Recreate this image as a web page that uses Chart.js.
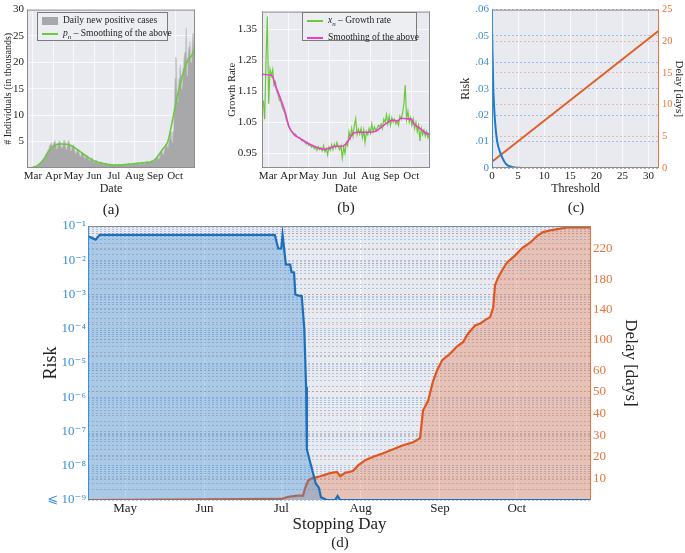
<!DOCTYPE html>
<html>
<head>
<meta charset="utf-8">
<script src="https://cdn.jsdelivr.net/npm/chart.js@4.4.0/dist/chart.umd.min.js"></script>
<style>
body { margin: 0; background: #fff; width: 685px; height: 553px; position: relative; overflow: hidden;
       font-family: 'Liberation Serif', 'DejaVu Serif', serif; color: #222; }
canvas { position: absolute; }
.cap { position: absolute; font-size: 15px; transform: translateX(-50%); }
.legend { position: absolute; background: #eceef2; border: 1px solid #7a7a7a; font-size: 9.5px; line-height: 13px; padding: 1px 4px; box-sizing: border-box; }
.legend div { white-space: nowrap; }
.sw { display: inline-block; width: 16px; vertical-align: middle; margin-right: 5px; }
</style>
</head>
<body>
<canvas id="chartA" width="200" height="198" style="left:0;top:0"></canvas>
<canvas id="chartB" width="212" height="198" style="left:222px;top:0"></canvas>
<canvas id="chartC" width="230" height="198" style="left:455px;top:0"></canvas>
<canvas id="chartD" width="609" height="329" style="left:36px;top:210px"></canvas>

<div class="legend" style="left:37px;top:12px;width:131px;height:29px">
  <div><span class="sw" style="height:8px;background:#a8a8aa"></span>Daily new positive cases</div>
  <div><span class="sw" style="height:2px;background:#6cc83c"></span><i>p<sub style="font-size:7px">n</sub></i> – Smoothing of the above</div>
</div>
<div class="legend" style="left:302px;top:12px;width:115px;height:29px">
  <div><span class="sw" style="height:2px;background:#6cc83c"></span><i>x<sub style="font-size:7px">n</sub></i> – Growth rate</div>
  <div><span class="sw" style="height:2px;background:#f03ccc"></span>Smoothing of the above</div>
</div>

<div class="cap" style="left:111px;top:201px">(a)</div>
<div class="cap" style="left:346px;top:199px">(b)</div>
<div class="cap" style="left:576px;top:199px">(c)</div>
<div class="cap" style="left:340px;top:534px">(d)</div>

<script>
// days are counted from 1 March 2020
const MONTH_NAMES = ['Mar', 'Apr', 'May', 'Jun', 'Jul', 'Aug', 'Sep', 'Oct'];
const MONTH_STARTS = [0, 31, 61, 92, 122, 153, 184, 214];

// (a) daily new positive cases, thousands, one value per day from CASE_START
const CASE_START = -6;
const cases = [
  0, 0, 0, 0, 0.05, 0.1, 0.1,
  0.1, 0.1, 0.2, 0.2, 0.3, 0.3, 0.4,
  0.5, 0.6, 0.7, 0.9, 1.0, 1.2, 1.3,
  1.5, 1.7, 1.9, 2.2, 2.5, 2.8, 3.0,
  3.2, 3.5, 3.8, 4.2, 4.5, 4.6, 4.9,
  3.9, 4.2, 4.6, 5.0, 5.2, 4.8, 4.4,
  3.6, 4.1, 4.7, 5.2, 5.1, 4.9, 4.5,
  3.7, 4.0, 4.5, 5.0, 5.3, 4.9, 4.6,
  3.5, 3.9, 4.4, 5.1, 5.2, 4.7, 4.2,
  3.2, 3.6, 4.0, 4.3, 4.4, 3.8, 3.5,
  2.7, 3.0, 3.4, 3.6, 3.5, 3.1, 2.8,
  2.2, 2.5, 2.8, 3.0, 2.9, 2.6, 2.3,
  1.8, 2.0, 2.3, 2.4, 2.3, 2.0, 1.8,
  1.4, 1.6, 1.8, 1.9, 1.8, 1.5, 1.3,
  1.1, 1.2, 1.4, 1.5, 1.4, 1.2, 1.1,
  0.9, 1.0, 1.1, 1.2, 1.1, 0.9, 0.8,
  0.7, 0.8, 0.9, 1.0, 0.9, 0.8, 0.7,
  0.6, 0.6, 0.7, 0.8, 0.7, 0.6, 0.5,
  0.5, 0.5, 0.6, 0.7, 0.6, 0.5, 0.5,
  0.5, 0.6, 0.7, 0.7, 0.6, 0.5, 0.5,
  0.5, 0.6, 0.7, 0.8, 0.7, 0.6, 0.5,
  0.6, 0.7, 0.8, 0.9, 0.8, 0.7, 0.6,
  0.6, 0.7, 0.8, 0.9, 0.9, 0.8, 0.7,
  0.7, 0.8, 0.9, 1.0, 1.0, 0.8, 0.7,
  0.8, 0.9, 1.0, 1.1, 1.1, 0.9, 0.8,
  0.9, 1.0, 1.2, 1.3, 1.3, 1.1, 1.0,
  1.0, 1.2, 1.4, 1.5, 1.5, 1.3, 1.2,
  1.3, 1.6, 1.8, 2.0, 2.1, 1.8, 1.6,
  2.0, 2.4, 2.8, 3.1, 3.3, 2.9, 2.6,
  3.0, 3.6, 4.0, 4.5, 4.7, 4.2, 3.8,
  4.5, 5.5, 6.5, 7.0, 6.8, 5.5, 4.8,
  7.0, 9.0, 12.0, 17.0, 21.0, 20.5, 14.0,
  12.5, 15.5, 17.0, 18.5, 19.5, 17.5, 15.0,
  16.0, 19.0, 20.0, 21.5, 22.0, 24.0, 26.5,
  17.5, 20.5, 22.0, 23.0, 24.0, 22.5, 20.0,
  21.0, 24.0, 25.5, 24.5, 22.0
];
const smoothDaysA = [-5, 6, 16, 23.5, 31, 38.5, 51, 58, 71, 81, 93, 106, 121, 136, 151, 166, 179, 186, 196, 203, 211, 218, 226, 233, 239, 243];
const smoothCasesA = [0, 0.4, 1.6, 3.1, 4.2, 4.55, 4.5, 4.2, 3.1, 2.2, 1.3, 0.86, 0.55, 0.6, 0.8, 1.0, 1.2, 1.9, 3.7, 5.0, 9.6, 13.9, 17.9, 20.4, 21.3, 22.5];
const A_Y_TICKS = [5, 10, 15, 20, 25, 30];

// (b) growth rate, every second day from GROWTH_START
const GROWTH_START = -7;
const GROWTH_STEP = 2;
const growth = [
  1.12, 1.06, 1.25, 1.39, 1.11, 1.22, 1.20, 1.22, 1.17, 1.18,
  1.15, 1.14, 1.12, 1.12, 1.10, 1.09, 1.08, 1.06, 1.05, 1.035,
  1.03, 1.02, 1.018, 1.01, 1.012, 1.005, 1.0, 1.002, 0.995, 0.99,
  0.992, 0.985, 0.98, 0.985, 0.975, 0.978, 0.97, 0.975, 0.965, 0.97,
  0.96, 0.972, 0.962, 0.968, 0.958, 0.975, 0.955, 0.965, 0.945, 0.97,
  0.96, 0.978, 0.962, 0.98, 0.968, 0.985, 0.97, 0.962, 0.975, 0.935,
  0.97, 0.95, 0.985, 0.975, 1.02, 1.0, 1.03, 1.005, 1.04, 1.062,
  1.01, 1.028, 1.012, 1.03, 1.0, 1.025, 0.985, 1.02, 1.01, 1.03,
  1.015, 1.045, 1.02, 1.035, 1.025, 1.03, 1.04, 1.035, 1.045, 1.03,
  1.06, 1.05, 1.075, 1.045, 1.07, 1.04, 1.065, 1.05, 1.06, 1.045,
  1.055, 1.04, 1.07, 1.06, 1.08, 1.11, 1.17, 1.06, 1.085, 1.05,
  1.065, 1.04, 1.06, 1.03, 1.05, 1.02, 1.04, 0.99, 1.03, 1.01,
  1.025, 1.005, 1.02, 1.0, 1.015, 1.01
];
const smoothDaysB = [-7.5, 6, 11, 18.5, 26, 31, 38.5, 48.5, 61, 73.5, 83.5, 93.5, 101, 111, 118.5, 126, 133.5, 148.5, 161, 168.5, 178.5, 186, 193.5, 198.5, 208.5, 213.5, 218.5, 228.5, 236, 242.5];
const smoothGrowthB = [1.204, 1.2, 1.168, 1.127, 1.08, 1.038, 1.012, 0.997, 0.981, 0.969, 0.963, 0.968, 0.973, 0.973, 0.986, 1.012, 1.018, 1.018, 1.021, 1.033, 1.049, 1.057, 1.054, 1.063, 1.061, 1.061, 1.044, 1.028, 1.015, 1.012];
const B_Y_TICKS = [0.95, 1.05, 1.15, 1.25, 1.35];

// (c) risk and delay against threshold
const threshold = [0, 0.25, 0.5, 0.75, 1, 1.5, 2, 2.5, 3, 4, 5, 6, 8, 32];
const riskC = [0.053, 0.030, 0.020, 0.014, 0.010, 0.0062, 0.0038, 0.0020, 0.0010, 0.0003, 0.0001, 0.00003, 0, 0];
const delayThreshold = [0, 32];
const delayC = [1.0, 21.7];
const C_X_TICKS = [0, 5, 10, 15, 20, 25, 30];
const C_RISK_TICKS = [0, 0.01, 0.02, 0.03, 0.04, 0.05, 0.06];
const C_DELAY_TICKS = [0, 5, 10, 15, 20, 25];

// (d) risk and delay against stopping day
const riskDays = [46.5, 48, 49.5, 51, 119.5, 120.8, 122, 122.5, 123.8, 125.5, 126, 127, 127.5, 129.5, 130, 131, 131.7, 132, 133.5, 135.5, 136.7, 137.5, 139.8, 143, 144, 145, 243];
const riskD = [0.05, 0.045, 0.04, 0.055, 0.055, 0.022, 0.022, 0.057, 0.0076, 0.0075, 0.0045, 0.0044, 0.001, 0.0009, 0.0009, 1e-4, 2e-6, 3e-8, 1.1e-8, 3e-9, 2.3e-9, 1.2e-9, 1e-9, 1e-9, 1.3e-9, 1e-9, 1e-9];
const delayDays = [46.5, 122.3, 124.3, 128.2, 130.5, 131.3, 132.5, 134, 137.2, 141.1, 143.8, 145, 147, 150, 152, 154.8, 157.9, 161.8, 165.7, 169.6, 173.5, 176.2, 177.4, 179.4, 181.3, 182.9, 184.8, 188, 190.7, 193, 195, 197.7, 199.7, 201.6, 203.6, 204.8, 205.5, 206.7, 208.7, 210.2, 213.3, 216.1, 219.2, 222, 224.3, 228.2, 233.7, 243];
const delayD = [0, 0.5, 1.4, 2, 2, 5.5, 9, 10, 11, 12.4, 13, 11, 12.6, 13.4, 16, 18.4, 20, 21.6, 23.5, 25.3, 26.7, 28.6, 41.5, 46, 55, 60, 73, 82, 91.5, 97, 108.5, 119, 121.5, 126, 130, 143, 172, 182, 194, 202, 211, 221, 228, 237, 242, 245, 248, 248];
const D_DELAY_TICKS = [10, 20, 30, 40, 50, 60, 80, 100, 120, 140, 160, 180, 200, 220, 240];
const D_DELAY_LABELLED = [10, 20, 30, 40, 50, 60, 100, 140, 180, 220];

const BLUE_AXIS = '#3a8fd8';
const ORANGE_AXIS = '#e8743b';
const SERIF = "'Liberation Serif', 'DejaVu Serif', 'DejaVu Sans', serif";

Chart.defaults.font.family = SERIF;
Chart.defaults.color = '#222';
Chart.defaults.animation = false;

// delay axis of (d): 0-60 days stretched, beyond 60 compressed
const DELAY_K = 0.351;
function warp(d) { return d <= 60 ? d : 60 + (d - 60) * DELAY_K; }
function unwarp(t) { return t <= 60 ? t : 60 + (t - 60) / DELAY_K; }

function fixTicks(vals) {
  return function(scale) { scale.ticks = vals.map(v => ({ value: v })); };
}
function monthTicks(lo, hi) {
  return fixTicks(MONTH_STARTS.filter(v => v >= lo && v <= hi));
}
function monthLabel(v) {
  const i = MONTH_STARTS.indexOf(v);
  return i < 0 ? '' : MONTH_NAMES[i];
}
function fixWidth(w) { return s => { s.width = w; }; }
function fixHeight(h) { return s => { s.height = h; }; }
function pts(xs, ys, f) { return xs.map((x, i) => ({ x: x, y: f ? f(ys[i]) : ys[i] })); }

const SUP = { '0': '⁰', '1': '¹', '2': '²', '3': '³', '4': '⁴', '5': '⁵', '6': '⁶', '7': '⁷', '8': '⁸', '9': '⁹' };
function powerLabel(v) {
  const e = Math.log10(v);
  const n = Math.round(e);
  if (Math.abs(e - n) > 1e-6) return '';
  const s = '10' + (n < 0 ? '⁻' : '') + String(Math.abs(n)).split('').map(c => SUP[c]).join('');
  return n === -9 ? '⩽ ' + s : s;
}

// plot background and frame
const plotFrame = {
  id: 'plotFrame',
  beforeDraw(chart, args, opts) {
    const { ctx, chartArea: a } = chart;
    ctx.save();
    ctx.fillStyle = opts.bg || '#e9eaf0';
    ctx.fillRect(a.left, a.top, a.width, a.height);
    ctx.restore();
  },
  afterDraw(chart, args, opts) {
    const { ctx, chartArea: a } = chart;
    const c = opts.colors || {};
    const def = '#8c8c8c';
    const side = (col, x1, y1, x2, y2) => {
      if (col === 'none') return;
      ctx.strokeStyle = col || def;
      ctx.beginPath(); ctx.moveTo(x1, y1); ctx.lineTo(x2, y2); ctx.stroke();
    };
    ctx.save();
    ctx.lineWidth = opts.width || 1;
    side(c.top, a.left, a.top + 0.5, a.right, a.top + 0.5);
    side(c.bottom, a.left, a.bottom - 0.5, a.right, a.bottom - 0.5);
    side(c.left, a.left + 0.5, a.top, a.left + 0.5, a.bottom);
    side(c.right, a.right - 0.5, a.top, a.right - 0.5, a.bottom);
    ctx.restore();
  }
};
Chart.register(plotFrame);

const whiteGrid = { color: 'rgba(255,255,255,0.9)', lineWidth: 0.8, drawTicks: false };
const tickFont = { size: 11 };

// (a)
new Chart(document.getElementById('chartA'), {
  type: 'line',
  data: {
    datasets: [{
      data: smoothDaysA.map((x, i) => ({ x: x, y: smoothCasesA[i] })),
      borderColor: '#6cc83c', borderWidth: 1.6, pointRadius: 0, cubicInterpolationMode: 'monotone'
    }, {
      data: cases.map((v, i) => ({ x: CASE_START + i, y: v })),
      borderColor: '#c4c4c6', borderWidth: 0.7, backgroundColor: '#a8a8aa', fill: 'origin', pointRadius: 0
    }]
  },
  options: {
    responsive: false, devicePixelRatio: 1,
    layout: { padding: { top: 6, right: 5 } },
    plugins: { legend: { display: false }, tooltip: { enabled: false } },
    scales: {
      x: {
        type: 'linear', min: -9, max: 244, afterBuildTicks: monthTicks(-9, 244), afterFit: fixHeight(30),
        grid: whiteGrid, border: { display: false },
        ticks: { callback: monthLabel, font: tickFont, padding: 2, maxRotation: 0, autoSkip: false },
        title: { display: true, text: 'Date', font: { size: 12 }, padding: { top: 0, bottom: 2 } }
      },
      y: {
        min: 0, max: 30, afterBuildTicks: fixTicks(A_Y_TICKS), afterFit: fixWidth(27),
        grid: whiteGrid, border: { display: false },
        ticks: { font: tickFont, padding: 3 },
        title: { display: true, text: '# Individuals (in thousands)', font: { size: 10 }, padding: { top: 2, bottom: 0 } }
      }
    }
  }
});

// (b)
new Chart(document.getElementById('chartB'), {
  type: 'line',
  data: {
    datasets: [{
      data: pts(smoothDaysB, smoothGrowthB),
      borderColor: '#f03ccc', borderWidth: 1.6, pointRadius: 0, cubicInterpolationMode: 'monotone'
    }, {
      data: growth.map((v, i) => ({ x: GROWTH_START + i * GROWTH_STEP, y: v })),
      borderColor: '#6cc83c', borderWidth: 1.2, pointRadius: 0
    }]
  },
  options: {
    responsive: false, devicePixelRatio: 1,
    layout: { padding: { top: 5, right: 4 } },
    plugins: { legend: { display: false }, tooltip: { enabled: false } },
    scales: {
      x: {
        type: 'linear', min: -9, max: 242, afterBuildTicks: monthTicks(-9, 242), afterFit: fixHeight(30),
        grid: whiteGrid, border: { display: false },
        ticks: { callback: monthLabel, font: tickFont, padding: 2, maxRotation: 0, autoSkip: false },
        title: { display: true, text: 'Date', font: { size: 12 }, padding: { top: 0, bottom: 2 } }
      },
      y: {
        min: 0.903, max: 1.406, afterBuildTicks: fixTicks(B_Y_TICKS), afterFit: fixWidth(40),
        grid: whiteGrid, border: { display: false },
        ticks: { font: tickFont, padding: 5, callback: v => v.toFixed(2) },
        title: { display: true, text: 'Growth Rate', font: { size: 10.5 }, padding: { top: 4, bottom: 0 } }
      }
    }
  }
});

// (c)
new Chart(document.getElementById('chartC'), {
  type: 'line',
  data: {
    datasets: [{
      data: pts(threshold, riskC), yAxisID: 'y',
      borderColor: '#1f78c8', borderWidth: 2, pointRadius: 0, cubicInterpolationMode: 'monotone'
    }, {
      data: pts(delayThreshold, delayC), yAxisID: 'y2',
      borderColor: '#e0602a', borderWidth: 2, pointRadius: 0
    }]
  },
  options: {
    responsive: false, devicePixelRatio: 1,
    layout: { padding: { top: 5 } },
    plugins: { legend: { display: false }, tooltip: { enabled: false }, plotFrame: { colors: { left: BLUE_AXIS, right: ORANGE_AXIS } } },
    scales: {
      x: {
        type: 'linear', min: 0, max: 32, afterBuildTicks: fixTicks(C_X_TICKS), afterFit: fixHeight(30),
        grid: whiteGrid, border: { display: false },
        ticks: { font: tickFont, padding: 2, maxRotation: 0 },
        title: { display: true, text: 'Threshold', font: { size: 12 }, padding: { top: 0, bottom: 2 } }
      },
      y: {
        position: 'left', min: 0, max: 0.06, afterBuildTicks: fixTicks(C_RISK_TICKS), afterFit: fixWidth(37),
        grid: { color: 'rgba(80,145,220,0.6)', lineWidth: 0.8, drawTicks: false }, border: { display: false, dash: [2, 2] },
        ticks: { font: tickFont, padding: 3, color: BLUE_AXIS, callback: v => v === 0 ? '0' : '.' + String(Math.round(v * 100)).padStart(2, '0') },
        title: { display: true, text: 'Risk', font: { size: 12 }, padding: { top: 4, bottom: 0 } }
      },
      y2: {
        position: 'right', min: 0, max: 25, afterBuildTicks: fixTicks(C_DELAY_TICKS), afterFit: fixWidth(26),
        grid: { color: 'rgba(235,125,85,0.55)', lineWidth: 0.8, drawTicks: false }, border: { display: false, dash: [2, 2] },
        ticks: { font: { size: 10.5 }, padding: 3, color: ORANGE_AXIS },
        title: { display: true, text: 'Delay [days]', font: { size: 11 }, padding: { top: 0, bottom: 0 } }
      }
    }
  }
});

// (d)
new Chart(document.getElementById('chartD'), {
  type: 'line',
  data: {
    datasets: [{
      data: pts(riskDays, riskD), yAxisID: 'y',
      borderColor: '#1c6fbe', borderWidth: 2.2, pointRadius: 0,
      backgroundColor: 'rgba(60,140,210,0.36)', fill: 'start'
    }, {
      data: pts(delayDays, delayD, warp), yAxisID: 'y2',
      borderColor: '#e0561f', borderWidth: 2.2, pointRadius: 0,
      backgroundColor: 'rgba(230,110,70,0.34)', fill: 'start'
    }]
  },
  options: {
    responsive: false, devicePixelRatio: 1,
    layout: { padding: { top: 16 } },
    plugins: {
      legend: { display: false }, tooltip: { enabled: false },
      plotFrame: { bg: '#e9eaf0', colors: { left: BLUE_AXIS, right: ORANGE_AXIS, bottom: 'none' } }
    },
    scales: {
      x: {
        type: 'linear', min: 46.5, max: 243, afterBuildTicks: monthTicks(46.5, 243), afterFit: fixHeight(39),
        grid: { color: 'rgba(255,255,255,0.9)', lineWidth: 1, drawTicks: false }, border: { display: false },
        ticks: { callback: monthLabel, font: { size: 13 }, padding: 1, maxRotation: 0, autoSkip: false },
        title: { display: true, text: 'Stopping Day', font: { size: 17 }, padding: { top: 0, bottom: 4 } }
      },
      y: {
        type: 'logarithmic', position: 'left', min: 1e-9, max: 1e-1, afterFit: fixWidth(52),
        grid: { color: 'rgba(70,140,215,0.5)', lineWidth: 0.8, drawTicks: false }, border: { display: false, dash: [2, 2] },
        ticks: { font: { size: 13 }, padding: 2, color: BLUE_AXIS, autoSkip: false, callback: powerLabel },
        title: { display: true, text: 'Risk', font: { size: 18 }, padding: { top: 4, bottom: 0 } }
      },
      y2: {
        position: 'right', min: 0, max: warp(250), afterBuildTicks: fixTicks(D_DELAY_TICKS.map(warp)), afterFit: fixWidth(54),
        grid: { color: 'rgba(232,116,70,0.55)', lineWidth: 0.8, drawTicks: false }, border: { display: false, dash: [2, 2] },
        ticks: {
          font: { size: 13 }, padding: 2, color: ORANGE_AXIS, autoSkip: false,
          callback: v => { const d = Math.round(unwarp(v)); return D_DELAY_LABELLED.includes(d) ? String(d) : ''; }
        },
        title: { display: true, text: 'Delay [days]', font: { size: 17 }, padding: { top: 4, bottom: 0 } }
      }
    }
  }
});
</script>
</body>
</html>
